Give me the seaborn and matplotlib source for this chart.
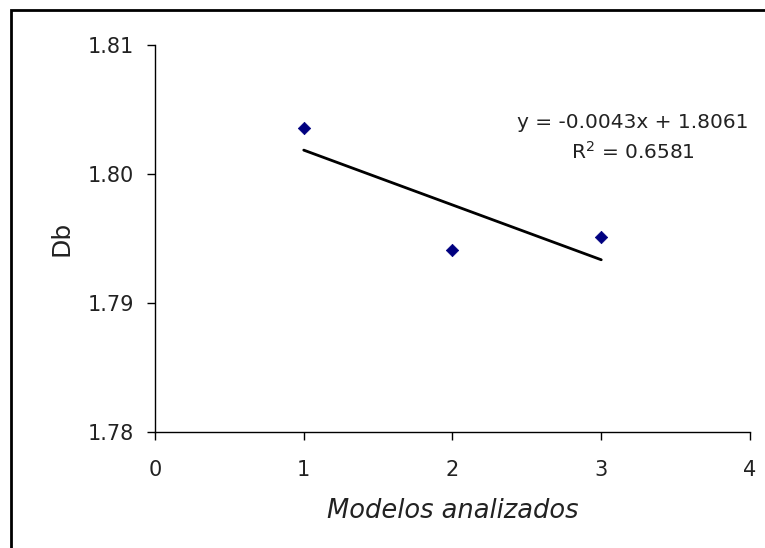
import numpy as np
import matplotlib
matplotlib.use("Agg")
import matplotlib.pyplot as plt
import seaborn as sns
from matplotlib.patches import Rectangle

# Data
modelos = [1, 2, 3]
db = [1.8036, 1.7941, 1.7951]
x_ticks = [0, 1, 2, 3, 4]
y_ticks = [1.78, 1.79, 1.80, 1.81]
trend_eq = "y = -0.0043x + 1.8061"
trend_r2 = "R$^2$ = 0.6581"

sns.set_style("white")
plt.rcParams["font.family"] = ["DejaVu Sans"]

fig = plt.figure(figsize=(7.65, 5.48), dpi=100)
ax = fig.add_axes([0.2026, 0.2117, 0.7778, 0.7062])

# Scatter points (navy diamonds)
sns.scatterplot(x=modelos, y=db, marker="D", color="#000080", s=40,
                edgecolor="#000080", ax=ax, zorder=3)

# Linear trendline over the data range
slope, intercept = np.polyfit(modelos, db, 1)
xs = np.array([min(modelos), max(modelos)])
sns.lineplot(x=xs, y=slope * xs + intercept, color="black", linewidth=2, ax=ax)

ax.text(3.21, 1.8040, trend_eq, fontsize=14.5,
        ha="center", va="center", color="#222222")
ax.text(3.21, 1.8017, trend_r2, fontsize=14.5,
        ha="center", va="center", color="#222222")

ax.set_xlim(0, 4)
ax.set_ylim(1.78, 1.81)
ax.set_xticks(x_ticks)
ax.set_yticks(y_ticks)
ax.set_yticklabels([f"{v:.2f}" for v in y_ticks])
ax.tick_params(axis="both", direction="out", length=6, width=1, color="black",
               labelsize=15, labelcolor="#222222", bottom=True, left=True)
ax.tick_params(axis="y", pad=9)
ax.tick_params(axis="x", pad=14)

for side in ["top", "right"]:
    ax.spines[side].set_visible(False)
for side in ["left", "bottom"]:
    ax.spines[side].set_color("black")
    ax.spines[side].set_linewidth(1)

ax.set_xlabel("Modelos analizados", fontsize=18.5, style="italic",
              labelpad=13, color="#222222")
ax.set_ylabel("Db", fontsize=18, labelpad=10, color="#222222")

# Outer chart border
fig.patches.append(Rectangle((11 / 765, -0.1), 1.2, 1 - 10 / 548 + 0.1,
                             transform=fig.transFigure, fill=False,
                             edgecolor="black", linewidth=2))

fig.savefig("out.png", dpi=100)
